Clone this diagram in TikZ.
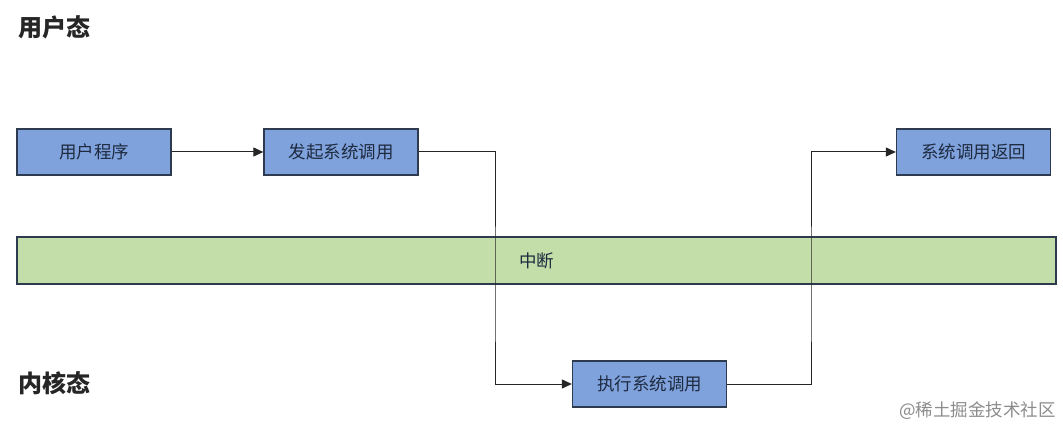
\documentclass[tikz,border=0pt]{standalone}
\usepackage{fontspec}
\newfontfamily\cjk{Noto Sans CJK SC}
\newfontfamily\cjkm{Noto Sans CJK SC Medium}
\usetikzlibrary{arrows.meta}
\definecolor{boxfill}{HTML}{7FA2DC}
\definecolor{boxdraw}{HTML}{2E3A4E}
\definecolor{barfill}{HTML}{C3DEA8}
\definecolor{txt}{HTML}{1E2A40}
\tikzset{
  proc/.style={draw=boxdraw, line width=1.3pt, fill=boxfill, minimum width=154pt, minimum height=46pt, inner sep=0pt, font=\cjk\fontsize{17.5}{17.5}\selectfont, text=txt},
  bar/.style={draw=boxdraw, line width=1.2pt, fill=barfill, minimum width=1039pt, minimum height=47pt, inner sep=0pt, font=\cjk\fontsize{17.5}{17.5}\selectfont, text=txt},
  title/.style={font=\cjk\bfseries\fontsize{24}{24}\selectfont, text=black!85, anchor=west, inner sep=0pt},
  conn/.style={draw=black!85, line width=1pt, -{Triangle[length=10pt,width=9pt]}},
}
\begin{document}
\begin{tikzpicture}[x=1pt,y=-1pt]
\fill[white] (0,0) rectangle (1063,430);
\useasboundingbox (0,0) rectangle (1063,430);
\node[title] (ut) at (18,27) {用户态};
\node[title] (kt) at (18,383) {内核态};
\node[bar] (irq) at (536.5,260.5) {中断};
\node[proc] (up) at (94,152) {用户程序};
\node[proc] (sc) at (341,152) {发起系统调用};
\node[proc] (ret) at (973.5,152) {系统调用返回};
\node[proc] (ex) at (649.5,384) {执行系统调用};
\draw[conn] (up.east) -- (sc.west);
\draw[conn] (sc.east) -| (495,300) |- (ex.west);
\draw[conn] (ex.east) -| (811,300) |- (ret.west);
\node[font=\cjk\fontsize{17.5}{17.5}\selectfont, text=black!45, anchor=east, inner sep=0pt] (wm) at (1056,411) {@稀土掘金技术社区};
\end{tikzpicture}
\end{document}
